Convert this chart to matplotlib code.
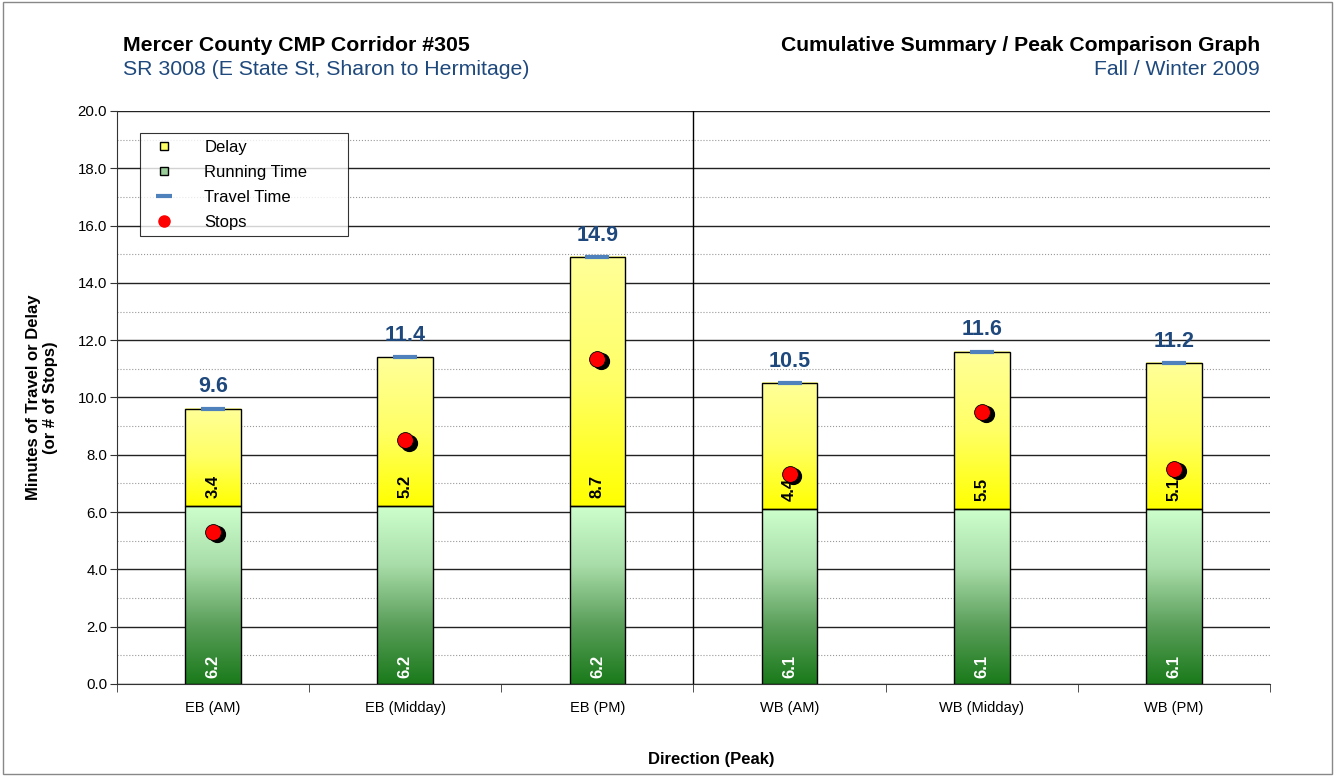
import numpy as np
import matplotlib.pyplot as plt
from matplotlib.colors import LinearSegmentedColormap
from matplotlib.lines import Line2D

plt.rcParams['font.family'] = ['Liberation Sans', 'DejaVu Sans']

categories = ['EB (AM)', 'EB (Midday)', 'EB (PM)', 'WB (AM)', 'WB (Midday)', 'WB (PM)']
running = [6.2, 6.2, 6.2, 6.1, 6.1, 6.1]
delay = [3.4, 5.2, 8.7, 4.4, 5.5, 5.1]
travel = [9.6, 11.4, 14.9, 10.5, 11.6, 11.2]
stops = [5.3, 8.5, 11.35, 7.33, 9.5, 7.5]

fig = plt.figure(figsize=(13.35, 7.76), dpi=100)
fig.patches.append(plt.Rectangle((0.002, 0.002), 0.996, 0.996, transform=fig.transFigure,
                                 fill=False, edgecolor='#888888', lw=1))
ax = fig.add_axes([0.0876, 0.1186, 0.8637, 0.7384])

x = np.arange(len(categories))
w = 0.29
green = LinearSegmentedColormap.from_list('g', ['#1a7a1a', '#5a9e5a', '#a8dca8', '#ccffcc'])
yellow = LinearSegmentedColormap.from_list('y', ['#ffff00', '#ffff66', '#ffff99'])
grad = np.linspace(0, 1, 256).reshape(-1, 1)

for i in range(len(x)):
    r, d = running[i], delay[i]
    ax.imshow(grad, cmap=green, origin='lower', aspect='auto', zorder=2,
              extent=(x[i] - w / 2, x[i] + w / 2, 0, r))
    ax.imshow(grad, cmap=yellow, origin='lower', aspect='auto', zorder=2,
              extent=(x[i] - w / 2, x[i] + w / 2, r, r + d))
ax.bar(x, running, w, fill=False, edgecolor='black', lw=1, zorder=3)
ax.bar(x, delay, w, bottom=running, fill=False, edgecolor='black', lw=1, zorder=3)

for i in range(len(x)):
    ax.text(x[i], 0.22, f'{running[i]:.1f}', rotation=90, ha='center', va='bottom',
            color='white', fontweight='bold', fontsize=12, zorder=4)
    ax.text(x[i], running[i] + 0.3, f'{delay[i]:.1f}', rotation=90, ha='center', va='bottom',
            color='black', fontweight='bold', fontsize=12, zorder=4)
    ax.text(x[i], travel[i] + 0.4, f'{travel[i]:.1f}', ha='center', va='bottom',
            color='#1f497d', fontweight='bold', fontsize=15.5, zorder=4)

ax.scatter(x, travel, marker='_', s=300, linewidths=3, color='#4f81bd', zorder=5)
ax.scatter(x + 0.02, np.array(stops) - 0.08, s=130, color='black', zorder=5)
ax.scatter(x, stops, s=130, color='red', edgecolor='black', linewidths=0.6, zorder=6)

ax.axvline(2.5, color='black', lw=1, zorder=1)

ax.set_xlim(-0.5, 5.5)
ax.set_ylim(0, 20)
ax.set_yticks(np.arange(0, 20.1, 2))
ax.set_yticklabels([f'{v:.1f}' for v in np.arange(0, 20.1, 2)], fontsize=10.8)
ax.set_yticks(np.arange(1, 20, 2), minor=True)
ax.tick_params(axis='y', which='minor', length=0)
ax.grid(axis='y', which='major', color='#222222', lw=1, zorder=0)
ax.grid(axis='y', which='minor', color='#999999', lw=0.8, ls=':', zorder=0)
ax.set_axisbelow(True)
ax.set_xticks(x)
ax.set_xticklabels(categories, fontsize=10.5)
ax.tick_params(axis='x', length=0, pad=12)
ax.set_xticks(np.arange(-0.5, 5.6, 1), minor=True)
ax.tick_params(axis='x', which='minor', length=6, color='#333333')
ax.tick_params(axis='y', which='major', length=5, color='#333333', pad=2)
for s in ['top', 'right']:
    ax.spines[s].set_visible(False)
ax.spines['left'].set_color('#333333')
ax.spines['bottom'].set_color('#333333')

ax.set_ylabel('Minutes of Travel or Delay\n(or # of Stops)', fontweight='bold', fontsize=12, labelpad=14)
fig.text(0.533, 0.015, 'Direction (Peak)', ha='center', fontweight='bold', fontsize=12)

fig.text(0.092, 0.934, 'Mercer County CMP Corridor #305', fontweight='bold', fontsize=15.3)
fig.text(0.092, 0.903, 'SR 3008 (E State St, Sharon to Hermitage)', color='#1f497d', fontsize=15.3)
fig.text(0.944, 0.934, 'Cumulative Summary / Peak Comparison Graph', fontweight='bold', fontsize=15.2, ha='right')
fig.text(0.944, 0.903, 'Fall / Winter 2009', color='#1f497d', fontsize=15.2, ha='right')

handles = [
    Line2D([], [], marker='s', ls='none', markerfacecolor='#ffff66', markeredgecolor='black', markersize=6),
    Line2D([], [], marker='s', ls='none', markerfacecolor='#99cc99', markeredgecolor='black', markersize=6),
    Line2D([], [], marker='_', ls='none', color='#4f81bd', markersize=11, markeredgewidth=3),
    Line2D([], [], marker='o', ls='none', markerfacecolor='red', markeredgecolor='red', markersize=8),
]
leg = ax.legend(handles, ['Delay', 'Running Time', 'Travel Time', 'Stops'], loc='upper left',
                bbox_to_anchor=(0.02, 0.9616 - 0.178, 0.1804, 0.178), mode='expand',
                fontsize=12, frameon=True, fancybox=False,
                edgecolor='black', handlelength=2.1, handletextpad=1.35, labelspacing=0.6,
                borderpad=0.4, borderaxespad=0)
leg.get_frame().set_linewidth(0.8)
leg.set_zorder(10)

plt.savefig('out.png', dpi=100)
